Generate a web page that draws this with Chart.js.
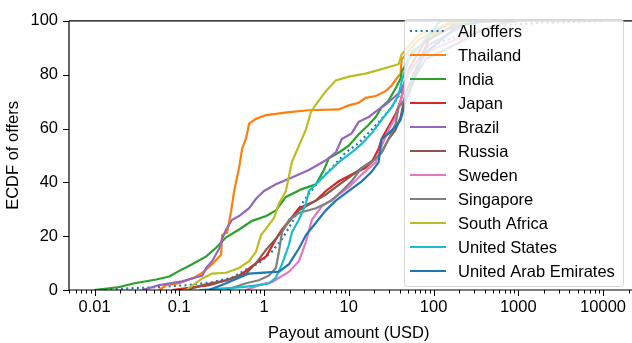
<!DOCTYPE html>
<html><head><meta charset="utf-8">
<script src="https://cdn.jsdelivr.net/npm/chart.js@4"></script>
<style>html,body{margin:0;padding:0;background:#fff;overflow:hidden}#wrap{width:634px;height:343px;position:relative}</style>
</head><body><div id="wrap"><canvas id="c" width="634" height="343"></canvas></div>
<script>
// ---- tick labels ----
const xTickValues = [0.01, 0.1, 1, 10, 100, 1000, 10000];
const xTickLabels = ['0.01', '0.1', '1', '10', '100', '1000', '10000'];
const yTickValues = [0, 20, 40, 60, 80, 100];
const yTickLabels = ['0', '20', '40', '60', '80', '100'];

// ---- series names / colours ----
const seriesNames = ['All offers', 'Thailand', 'India', 'Japan', 'Brazil', 'Russia', 'Sweden', 'Singapore', 'South Africa', 'United States', 'United Arab Emirates'];
const seriesColors = ['#1f77b4', '#ff7f0e', '#2ca02c', '#d62728', '#9467bd', '#8c564b', '#e377c2', '#7f7f7f', '#bcbd22', '#17becf', '#1f77b4'];

// ---- series values (payout USD, ECDF %) ----
const allOffersPayout = [0.01, 0.058, 0.121, 0.244, 0.42, 0.667, 0.873, 1.24, 1.63, 2.13, 2.8, 3.38, 4.43, 6.3, 9.2, 13.1, 18.6, 24.4, 32, 40.9, 50.8, 114, 258, 582, 1718, 10300];
const allOffersEcdf   = [0, 1.1, 1.8, 2.9, 4.6, 8.2, 10, 14.3, 18.9, 25, 32.1, 35.7, 40.4, 45.4, 51.1, 54.6, 59.6, 63.6, 67.9, 73.2, 81.4, 91.8, 95.7, 98.2, 99.3, 100];

const thailandPayout = [0.058, 0.07, 0.1, 0.15, 0.187, 0.244, 0.312, 0.32, 0.367, 0.409, 0.444, 0.508, 0.551, 0.614, 0.667, 0.805, 1.06, 1.97, 3.38, 7.6, 10, 13.1, 15.8, 20.8, 27.2, 32, 36.7, 40.9, 42, 66, 131, 337, 500];
const thailandEcdf   = [0, 1.8, 2.5, 4.6, 6.4, 9.6, 13.2, 20.4, 21.4, 29.3, 36.8, 45.4, 52.5, 56.4, 61.8, 63.6, 65, 66.1, 66.8, 67.1, 68.6, 69.6, 71.4, 72.1, 73.9, 76, 78.6, 80.4, 85.7, 92.9, 98.2, 100, 100];

const indiaPayout = [0.01, 0.0197, 0.0296, 0.0536, 0.0763, 0.1, 0.142, 0.208, 0.272, 0.357, 0.508, 0.723, 1.06, 1.38, 1.81, 2.8, 4.09, 5.08, 5.82, 7.63, 10, 13.1, 17.2, 20.8, 24.4, 29.5, 35.7, 40.9, 42, 58, 115, 337, 600];
const indiaEcdf   = [0, 1.1, 2.5, 3.9, 5, 7.1, 9.6, 12.5, 15.7, 19.6, 22.5, 25.7, 27.5, 29.6, 34.6, 37.5, 39.3, 44.6, 48.9, 51.1, 53.6, 57.9, 61.4, 64.3, 67.9, 70.4, 75, 78.6, 81.1, 89, 96, 99.6, 100];

const japanPayout = [0.0828, 0.225, 0.357, 0.508, 0.614, 0.805, 1.06, 1.38, 1.63, 1.97, 2.58, 4.09, 5.36, 7.63, 10.8, 15.8, 18.6, 22.5, 24.4, 29.5, 35.7, 40.9, 50.8, 87.6, 150, 500];
const japanEcdf   = [0, 1.8, 3.6, 5.4, 7.1, 10, 12.5, 18.9, 22.5, 25.7, 30.4, 33.2, 36.8, 40.4, 42.9, 45.4, 47.5, 52.5, 56.1, 60.7, 65.4, 70.4, 82.1, 94.6, 99.3, 100];

const brazilPayout = [0.0367, 0.058, 0.108, 0.187, 0.208, 0.244, 0.296, 0.32, 0.357, 0.42, 0.508, 0.667, 0.805, 1, 1.38, 2.13, 3.38, 5.36, 7.03, 8.27, 10.8, 13.1, 17.2, 22.5, 27.2, 35.7, 40.9, 50.8, 87.6, 258, 450];
const brazilEcdf   = [0, 1.8, 3.2, 5.4, 8.2, 10.7, 15.4, 18.9, 22.5, 26.1, 27.5, 30.4, 33.9, 36.8, 39.3, 41.8, 44.6, 48.2, 51.1, 56.1, 58.2, 62.5, 64.3, 67.1, 68.9, 72.1, 73.9, 80.4, 91, 99.3, 100];

const russiaPayout = [0.121, 0.2, 0.357, 0.614, 0.805, 1.06, 1.5, 2.13, 2.58, 4.09, 5.36, 7.03, 10, 14.2, 20.8, 24.4, 29.5, 35.7, 40.9, 46.9, 87.6, 196, 600];
const russiaEcdf   = [0, 2, 3.6, 6.1, 10, 15, 20.4, 26.8, 29.6, 33.2, 35.5, 38.2, 41.8, 45.4, 48.9, 51.1, 56.1, 59.6, 64.3, 73.2, 92.9, 99.3, 100];

const swedenPayout = [0.614, 0.873, 1.24, 1.97, 2.58, 3.12, 3.67, 4.81, 7.03, 10, 14.2, 20.8, 24.4, 29.5, 35.7, 40.9, 50.8, 94.7, 214, 582, 800];
const swedenEcdf   = [0, 1.8, 2.9, 6.8, 10.7, 17.9, 26.1, 31.1, 34.6, 38.2, 42.9, 47.5, 53.6, 59.6, 64.3, 70.4, 81.1, 89.3, 93.9, 98.9, 100];

const singaporePayout = [0.357, 0.614, 0.873, 1.15, 1.38, 1.5, 1.63, 1.97, 2.58, 4.09, 6.3, 8.27, 10.8, 14.2, 18.6, 24.4, 29.5, 35.7, 38.7, 50.8, 61.5, 80.5, 196, 367, 582, 1000];
const singaporeEcdf   = [0, 2.5, 3.6, 5.4, 8.2, 14.3, 21.4, 26.1, 28.6, 30.4, 33.2, 36.8, 40.4, 45.4, 47.5, 51.1, 56.1, 61.8, 67.9, 72.5, 79.6, 85.7, 91.8, 96.4, 98.9, 100];

const southAfricaPayout = [0.121, 0.187, 0.244, 0.357, 0.508, 0.667, 0.805, 0.922, 1.08, 1.31, 1.5, 1.81, 2.13, 2.58, 3.12, 3.57, 4.09, 5.36, 7.03, 10, 15.8, 24.4, 38.7, 42, 66, 150, 400];
const southAfricaEcdf   = [0, 4.3, 6.1, 6.4, 8.2, 10.7, 14.3, 20.4, 23.2, 26.8, 32.1, 36.8, 47.5, 53.6, 59.6, 66.1, 68.9, 73.9, 77.9, 79.3, 80.4, 82.1, 83.9, 87.5, 94.6, 99.3, 100];

const unitedStatesPayout = [0.172, 0.551, 0.873, 1.15, 1.38, 1.63, 1.97, 2.13, 2.58, 3.12, 3.38, 4.09, 5.36, 7.63, 10.8, 14.2, 18.6, 24.4, 32, 38.7, 42, 50.8, 87.6, 114, 131, 700];
const unitedStatesEcdf   = [0, 1.1, 1.8, 2.5, 4.6, 9.6, 16.8, 21.4, 26.1, 32.1, 36.8, 39.3, 42.9, 47.5, 51.1, 54.3, 58.2, 63.2, 67.9, 72.5, 77.5, 85.7, 94.6, 99.3, 100, 100];

const uaePayout = [0.225, 0.357, 0.508, 0.667, 1.5, 1.97, 2.58, 3.12, 4.09, 5.36, 7.03, 10, 14.2, 18.6, 22.5, 24.4, 29.5, 35.7, 40.9, 48, 76, 196, 445, 800];
const uaeEcdf   = [0, 2.5, 4.6, 6.1, 6.8, 9.6, 15.4, 20.4, 25, 29.6, 33.2, 36.8, 40.4, 43.9, 47.5, 56.1, 58.2, 60.7, 63.2, 71.4, 87.5, 98.2, 100, 100];

const seriesX = [allOffersPayout, thailandPayout, indiaPayout, japanPayout, brazilPayout, russiaPayout, swedenPayout, singaporePayout, southAfricaPayout, unitedStatesPayout, uaePayout];
const seriesY = [allOffersEcdf, thailandEcdf, indiaEcdf, japanEcdf, brazilEcdf, russiaEcdf, swedenEcdf, singaporeEcdf, southAfricaEcdf, unitedStatesEcdf, uaeEcdf];

// ---- styling ----
const FONT = {family: '"Liberation Sans", Arial, sans-serif', size: 16.5};
const N = seriesNames.length;

const datasets = seriesNames.map((name, i) => ({
  label: name,
  data: seriesX[i].map((x, j) => ({x: x, y: seriesY[i][j]})),
  borderColor: seriesColors[i],
  backgroundColor: seriesColors[i],
  borderWidth: 2.2,
  borderDash: i === 0 ? [2, 3.3] : [],
  pointRadius: 0,
  tension: 0,
  fill: false,
  order: N - i
}));

const frameAndLegend = {
  id: 'frameAndLegend',
  afterDraw(chart) {
    const ctx = chart.ctx, a = chart.chartArea;
    const xs = chart.scales.x, ys = chart.scales.y;
    ctx.save();
    // spines (right spine lies outside the visible window)
    ctx.strokeStyle = '#000'; ctx.lineWidth = 1.2; ctx.setLineDash([]);
    ctx.beginPath();
    ctx.moveTo(a.left, a.top); ctx.lineTo(chart.width, a.top);
    ctx.moveTo(a.left, a.top); ctx.lineTo(a.left, a.bottom);
    ctx.moveTo(a.left, a.bottom); ctx.lineTo(chart.width, a.bottom);
    ctx.stroke();
    // tick marks
    ctx.lineWidth = 1;
    ctx.beginPath();
    xTickValues.forEach(v => { const p = Math.round(xs.getPixelForValue(v)) + 0.5; ctx.moveTo(p, a.bottom); ctx.lineTo(p, a.bottom + 6); });
    for (let k = -3; k <= 4; k++) {
      for (let m = 2; m <= 9; m++) {
        const v = m * Math.pow(10, k);
        if (v < xs.min || v > xs.max) continue;
        const p = Math.round(xs.getPixelForValue(v)) + 0.5;
        ctx.moveTo(p, a.bottom); ctx.lineTo(p, a.bottom + 3.5);
      }
    }
    yTickValues.forEach(v => { const p = Math.round(ys.getPixelForValue(v)) + 0.5; ctx.moveTo(a.left - 6, p); ctx.lineTo(a.left, p); });
    ctx.stroke();
    // legend
    const bx = 404.5, by = 19.5, bw = 219, bh = 267;
    ctx.beginPath();
    ctx.roundRect(bx, by, bw, bh, 3);
    ctx.fillStyle = 'rgba(255,255,255,0.82)';
    ctx.fill();
    ctx.strokeStyle = 'rgba(204,204,204,0.8)';
    ctx.lineWidth = 1;
    ctx.stroke();
    ctx.font = FONT.size + 'px ' + FONT.family;
    ctx.textBaseline = 'middle';
    ctx.textAlign = 'left';
    chart.data.datasets.forEach((ds, i) => {
      const yy = 31 + 24 * i;
      ctx.strokeStyle = ds.borderColor;
      ctx.lineWidth = 2.2;
      ctx.setLineDash(ds.borderDash || []);
      ctx.beginPath(); ctx.moveTo(410, yy); ctx.lineTo(446, yy); ctx.stroke();
      ctx.setLineDash([]);
      ctx.fillStyle = '#000';
      ctx.fillText(ds.label, 458, yy + 1);
    });
    ctx.restore();
  }
};

new Chart(document.getElementById('c'), {
  type: 'line',
  data: {datasets: datasets},
  options: {
    responsive: false,
    animation: false,
    devicePixelRatio: 1,
    layout: {padding: {top: 10, left: 0, right: 0, bottom: 0}},
    plugins: {legend: {display: false}, tooltip: {enabled: false}},
    scales: {
      x: {
        type: 'logarithmic', min: 0.005, max: 20000,
        afterBuildTicks: s => { s.ticks = xTickValues.map(v => ({value: v})); },
        afterFit: s => { s.height = 53; },
        grid: {display: false, drawTicks: false},
        border: {display: false},
        ticks: {
          autoSkip: false, maxRotation: 0, padding: 8, color: '#000', font: FONT,
          callback: v => { const i = xTickValues.indexOf(v); return i >= 0 ? xTickLabels[i] : ''; }
        },
        title: {display: true, text: 'Payout amount (USD)', color: '#000', font: FONT, padding: {top: 0, bottom: 0}}
      },
      y: {
        min: 0, max: 100,
        afterBuildTicks: s => { s.ticks = yTickValues.map(v => ({value: v})); },
        afterFit: s => { s.width = 69; },
        grid: {display: false, drawTicks: false},
        border: {display: false},
        ticks: {
          padding: 11, color: '#000', font: FONT,
          callback: v => { const i = yTickValues.indexOf(v); return i >= 0 ? yTickLabels[i] : ''; }
        },
        title: {display: true, text: 'ECDF of offers', color: '#000', font: FONT, padding: {top: 4, bottom: 0}}
      }
    }
  },
  plugins: [frameAndLegend]
});
</script>
</body></html>
